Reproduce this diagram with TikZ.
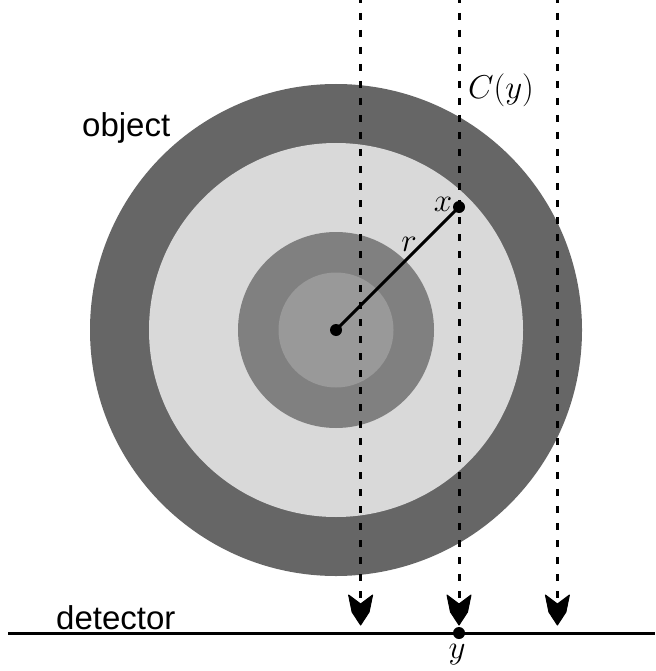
\RequirePackage{fix-cm}
\documentclass[tikz,border=0pt]{standalone}
\usepackage{fontspec}
\newfontfamily\labelfont{Liberation Sans}
\definecolor{ringA}{gray}{0.4}
\definecolor{ringB}{gray}{0.85}
\definecolor{ringC}{gray}{0.5}
\definecolor{ringD}{gray}{0.6}
\tikzset{
  ray/.style={line width=3pt, dash pattern=on 7pt off 10pt, dash phase=4pt},
  raytip/.style={fill=black, draw=black, line width=1pt, line join=round},
  solidline/.style={line width=3pt},
  dot/.style={circle, fill=black, inner sep=0pt, minimum size=12pt},
  mathlabel/.style={inner sep=0pt, font=\fontsize{33}{40}\selectfont},
  textlabel/.style={inner sep=0pt, font=\labelfont\fontsize{33}{40}\selectfont},
}
\begin{document}
\begin{tikzpicture}[x=1pt,y=-1pt]
\useasboundingbox (0,0) rectangle (655,671);
\coordinate (O) at (336,330);
% object rings
\fill[ringA] (O) circle[radius=246pt];
\fill[ringB] (O) circle[radius=187pt];
\fill[ringC] (O) circle[radius=98pt];
\fill[ringD] (O) circle[radius=57.5pt];
% rays with arrowheads
\foreach \i/\xx in {1/360.6,2/459,3/557.4}{
  \coordinate (t\i) at (\xx,0);
  \coordinate (m\i) at (\xx,603);
  \coordinate (b\i) at (\xx,625);
  \draw[ray] (t\i) -- (m\i);
  \filldraw[raytip] (b\i) -- ++(-8.5,-13) -- ++(-3.5,-17) -- ++(12,9)
     -- ++(12,-9) -- ++(-3.5,17) -- cycle;
}
% radius
\node[dot] (C) at (O) {};
\node[dot] (X) at (459,207) {};
\draw[solidline] (C.center) -- (X.center);
\node[mathlabel] (xl) at (443,204) {$x$};
\node[mathlabel] (rl) at (409,244) {$r$};
\node[mathlabel] (Cy) at (501,90) {$C(y)$};
% detector
\coordinate (dl) at (8,633);
\coordinate (dr) at (655,633);
\draw[solidline] (dl) -- (dr);
\node[dot] (Y) at (459,633) {};
\node[mathlabel] (yl) at (457,655) {$y$};
% text labels
\node[textlabel, anchor=base west] (obj) at (82,137) {object};
\node[textlabel, anchor=base west] (det) at (56,629) {detector};
\end{tikzpicture}
\end{document}
